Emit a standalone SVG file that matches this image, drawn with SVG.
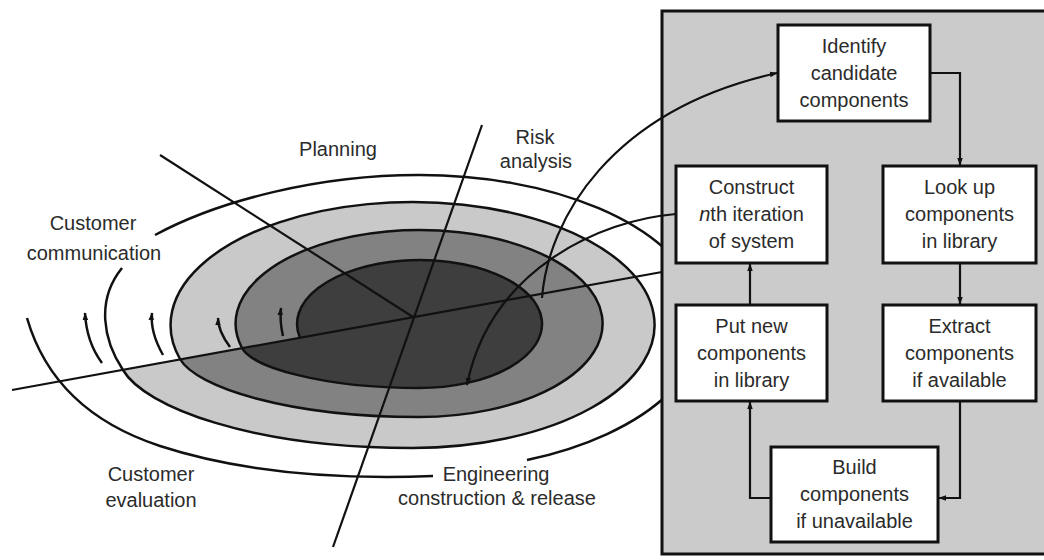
<svg xmlns="http://www.w3.org/2000/svg" width="1044" height="560" viewBox="0 0 1044 560">
<defs>
<marker id="ah" viewBox="0 0 10 10" refX="9" refY="5" markerWidth="8" markerHeight="8" markerUnits="userSpaceOnUse" orient="auto"><path d="M0,1.5 L10,5 L0,8.5 z" fill="#111"/></marker>
<style>
.ln{fill:none;stroke:#111;stroke-width:2.5}
.rad{fill:none;stroke:#111;stroke-width:2.2}
.con{fill:none;stroke:#111;stroke-width:2.2}
.box{fill:#fff;stroke:#111;stroke-width:3}
text{font-family:"Liberation Sans",Arial,sans-serif;font-size:20px;fill:#2b2b2b;text-anchor:middle}
</style>
</defs>
<rect width="1044" height="560" fill="#fff"/>
<g id="spiral">
<path d="M180,359 A242,123 0 1,1 412,448 C252,448 144.5,407 123,370 Z" fill="#c9c9c9"/>
<path d="M242,348 A183.5,93.5 0 1,1 418.5,417 C287.5,417 196,387 180,359 Z" fill="#828282"/>
<path d="M300,338 A122.5,64 0 1,1 419.5,388 C322,388 252,367 242,348 Z" fill="#3e3e3e"/>
<path class="ln" d="M300,338 A122.5,64 0 1,1 419.5,388 C322,388 252,367 242,348 A183.5,93.5 0 1,1 418.5,417 C287.5,417 196,387 180,359 A242,123 0 1,1 412,448 C252,448 144.5,407 123,370 C103,340 96,300 122,268"/>
<path class="ln" d="M155,235 C220,200 320,175 418,175 A283,148 0 0,1 527,460"/>
<path class="ln" d="M433,476 C330,480 240,472 160,446 C90,423 45,380 27,318"/>
<path class="rad" d="M12,390 L662,272"/>
<path class="rad" d="M482,125 L333,547"/>
<path class="rad" d="M160,155 L413,317"/>
<path class="ln" d="M102,363 Q86.5,342 85,313" marker-end="url(#ah)"/>
<path class="ln" d="M163,355 Q150,332 152,313" marker-end="url(#ah)"/>
<path class="ln" d="M230,347 Q218,331 218,318" marker-end="url(#ah)"/>
<path class="ln" d="M283,336 Q279.5,321 281,308" marker-end="url(#ah)"/>
</g>
<g id="labels">
<text x="93" y="230">Customer</text>
<text x="94" y="260">communication</text>
<text x="338" y="156">Planning</text>
<text x="535" y="144">Risk</text>
<text x="536" y="168">analysis</text>
<text x="151" y="481">Customer</text>
<text x="151" y="507">evaluation</text>
<text x="496" y="481">Engineering</text>
<text x="497" y="505">construction &amp; release</text>
</g>
<g id="panel">
<rect x="662" y="11" width="400" height="543" fill="#cbcbcb" stroke="#111" stroke-width="3"/>
</g>
<g id="connectors">
<path class="con" d="M542,298 C548,220 610,110 777,73" marker-end="url(#ah)"/>
<path class="con" d="M676,214 C600,220 490,270 467,385" marker-end="url(#ah)"/>
<path class="con" d="M930,73 H960 V165" marker-end="url(#ah)"/>
<path class="con" d="M960,263 V304" marker-end="url(#ah)"/>
<path class="con" d="M960,401 V498 H939" marker-end="url(#ah)"/>
<path class="con" d="M771,498 H750 V402" marker-end="url(#ah)"/>
<path class="con" d="M750,305 V264" marker-end="url(#ah)"/>
</g>
<g id="identify">
<rect class="box" x="778" y="25" width="152" height="96"/>
<text x="854" y="53">Identify</text>
<text x="854" y="80">candidate</text>
<text x="854" y="107">components</text>
</g>
<g id="construct">
<rect class="box" x="676" y="166" width="151" height="97"/>
<text x="751.5" y="194">Construct</text>
<text x="751.5" y="221"><tspan font-style="italic">n</tspan>th iteration</text>
<text x="751.5" y="248">of system</text>
</g>
<g id="lookup">
<rect class="box" x="883" y="166" width="153" height="97"/>
<text x="959.5" y="194">Look up</text>
<text x="959.5" y="221">components</text>
<text x="959.5" y="248">in library</text>
</g>
<g id="putnew">
<rect class="box" x="676" y="305" width="151" height="96"/>
<text x="751.5" y="333">Put new</text>
<text x="751.5" y="360">components</text>
<text x="751.5" y="387">in library</text>
</g>
<g id="extract">
<rect class="box" x="883" y="305" width="153" height="96"/>
<text x="959.5" y="333">Extract</text>
<text x="959.5" y="360">components</text>
<text x="959.5" y="387">if available</text>
</g>
<g id="build">
<rect class="box" x="771" y="447" width="167" height="95"/>
<text x="854.5" y="474">Build</text>
<text x="854.5" y="501">components</text>
<text x="854.5" y="528">if unavailable</text>
</g>
</svg>
